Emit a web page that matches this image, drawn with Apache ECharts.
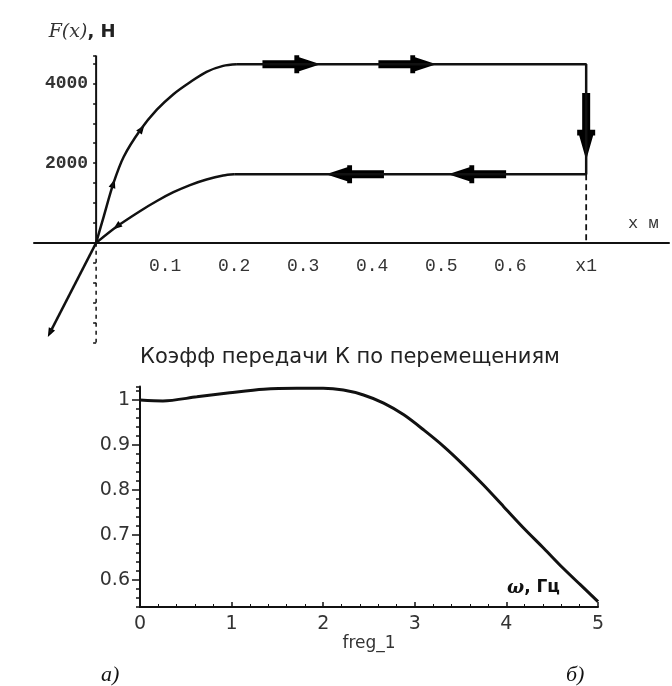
<!DOCTYPE html>
<html>

<head>
  <meta charset="utf-8" />
  <script src="https://cdn.jsdelivr.net/npm/echarts@6/dist/echarts.min.js"></script>
</head>

<body style="margin:0;background:#fff">
  <div id="main" style="width: 672px;height:686px;"></div>
  <script type="text/javascript">
    var myChart = echarts.init(document.getElementById('main'));

    // а) петля F(x), Н
    var negX = [-0.067, 0]
    var negF = [-2260, 0]
    var upX = [0, 0.011, 0.025, 0.040, 0.064, 0.088, 0.112, 0.136, 0.160, 0.184, 0.204]
    var upF = [0, 660, 1490, 2160, 2830, 3340, 3730, 4030, 4290, 4440, 4480]
    var lowX = [0, 0.030, 0.064, 0.088, 0.112, 0.136, 0.160, 0.184, 0.200]
    var lowF = [0, 410, 800, 1050, 1270, 1450, 1590, 1690, 1720]
    var x1 = 0.71
    var fTop = 4480
    var fLow = 1720
    var xTicks = [0.1, 0.2, 0.3, 0.4, 0.5, 0.6, 0.71]
    var xTickText = ['0.1', '0.2', '0.3', '0.4', '0.5', '0.6', 'x1']
    var fLabels = [2000, 4000]
    // большие стрелки на полках (0 - вправо, 180 - влево, -90 - вниз)
    var bigX = [0.283, 0.451, 0.375, 0.552, 0.71]
    var bigF = [4480, 4480, 1720, 1720, 2920]
    var bigDir = [0, 0, 180, 180, -90]
    // маленькие стрелки на кривых
    var smX = [0.025, 0.066, 0.030, -0.067]
    var smF = [1490, 2860, 410, -2260]
    var smRot = [-18, -36, 127, 153]

    // б) коэффициент передачи
    var wX = [0, 0.25, 0.62, 0.98, 1.35, 1.71, 2.0, 2.22, 2.44, 2.66, 2.88, 3.10, 3.32, 3.53, 3.75, 3.97, 4.19, 4.41, 4.62, 4.81, 5.0]
    var kY = [1.000, 0.998, 1.007, 1.016, 1.024, 1.026, 1.026, 1.022, 1.011, 0.993, 0.967, 0.933, 0.896, 0.856, 0.811, 0.763, 0.715, 0.670, 0.626, 0.589, 0.552]
    var kLabels = [0.6, 0.7, 0.8, 0.9, 1]

    var xMin = -0.09, xMax = 0.83
    var fMin = -2500, fMax = 4700

    function pairs(xs, ys) {
      return xs.map(function (x, i) { return [x, ys[i]] })
    }

    // верхняя сетка: оси проходят через ноль, сдвигаем их внутрь
    var g1 = { left: 34, top: 55.5, width: 635, height: 287 }
    var xShift = g1.height * (0 - fMin) / (fMax - fMin)
    var yShift = g1.width * (0 - xMin) / (xMax - xMin)

    var arrowPath = 'path://M0,5 L33,5 L33,0 L38,0 L38,2 L60,9 L38,16 L38,18 L33,18 L33,13 L0,13 Z'
    var ink = '#111'

    var lineBase = {
      type: 'line',
      xAxisIndex: 0,
      yAxisIndex: 0,
      showSymbol: false,
      silent: true,
      lineStyle: { color: ink, width: 2.5 }
    }

    var option = {
      animation: false,
      backgroundColor: '#fff',
      title: {
        text: 'Коэфф передачи К по перемещениям',
        left: 140,
        top: 347,
        padding: 0,
        textStyle: { fontFamily: 'DejaVu Sans', fontSize: 21, fontWeight: 'normal', color: '#222' }
      },
      grid: [
        Object.assign({ outerBoundsMode: 'none' }, g1),
        { left: 140, top: 386.5, width: 458, height: 220.5, outerBoundsMode: 'none' }
      ],
      xAxis: [
        {
          gridIndex: 0, type: 'value', min: xMin, max: xMax,
          offset: -xShift,
          splitLine: { show: false },
          axisLine: { onZero: false, lineStyle: { color: ink, width: 2 } },
          axisTick: { show: false },
          axisLabel: {
            customValues: xTicks,
            margin: 14,
            fontFamily: 'Liberation Mono', fontSize: 18, color: '#333',
            formatter: function (v) {
              var i = xTicks.indexOf(v)
              return i >= 0 ? xTickText[i] : ''
            }
          }
        },
        {
          gridIndex: 1, type: 'value', min: 0, max: 5, interval: 1,
          splitLine: { show: false },
          axisLine: { onZero: false, lineStyle: { color: ink, width: 2 } },
          axisTick: { inside: true, length: 5, lineStyle: { color: ink, width: 1.5 } },
          minorTick: { show: true, splitNumber: 5, length: 3, lineStyle: { color: ink } },
          axisLabel: { margin: 8, fontFamily: 'DejaVu Sans', fontSize: 19, color: '#333' },
          name: 'freg_1',
          nameLocation: 'middle',
          nameGap: 26,
          nameTextStyle: { fontFamily: 'DejaVu Sans', fontSize: 17, color: '#333' }
        }
      ],
      yAxis: [
        {
          gridIndex: 0, type: 'value', min: fMin, max: fMax, interval: 500,
          offset: -yShift,
          splitLine: { show: false },
          axisLine: { show: false, onZero: false },
          axisTick: { length: 3, lineStyle: { color: ink, width: 1.5 } },
          axisLabel: {
            margin: 8,
            fontFamily: 'Liberation Mono', fontSize: 18, fontWeight: 'bold', color: '#333',
            formatter: function (v) { return fLabels.indexOf(v) >= 0 ? String(v) : '' }
          },
          name: '{f|F(x)}{h|, H}',
          nameLocation: 'end',
          nameGap: 14,
          nameTextStyle: {
            padding: [0, 28, 0, 0],
            rich: {
              f: { fontFamily: 'DejaVu Serif', fontStyle: 'italic', fontSize: 19, color: '#333' },
              h: { fontFamily: 'DejaVu Sans', fontWeight: 'bold', fontSize: 18, color: '#222' }
            }
          }
        },
        {
          gridIndex: 1, type: 'value', min: 0.54, max: 1.03, interval: 0.02,
          splitLine: { show: false },
          axisLine: { onZero: false, lineStyle: { color: ink, width: 2 } },
          axisTick: { length: 4, lineStyle: { color: ink, width: 1.5 } },
          axisLabel: {
            customValues: kLabels,
            margin: 10,
            fontFamily: 'DejaVu Sans', fontSize: 19, color: '#333',
            formatter: function (v) { return v === 1 ? '1' : v.toFixed(1) }
          }
        },
        {
          // длинные риски у подписей
          gridIndex: 1, type: 'value', min: 0.54, max: 1.03, position: 'left',
          splitLine: { show: false },
          axisLine: { show: false, onZero: false },
          axisLabel: { show: false },
          axisTick: { customValues: kLabels, length: 8, lineStyle: { color: ink, width: 1.5 } }
        }
      ],
      series: [
        // ось F: сплошная вверх, штриховая вниз
        Object.assign({}, lineBase, {
          data: [[0, 0], [0, fMax]],
          lineStyle: { color: ink, width: 2 }
        }),
        Object.assign({}, lineBase, {
          data: [[0, 0], [0, fMin]],
          lineStyle: { color: ink, width: 1.5, type: [4, 4] }
        }),
        Object.assign({}, lineBase, { data: pairs(negX, negF) }),
        Object.assign({}, lineBase, { data: pairs(upX, upF), smooth: 0.3 }),
        Object.assign({}, lineBase, { data: pairs(lowX, lowF), smooth: 0.3 }),
        Object.assign({}, lineBase, {
          data: [[upX[upX.length - 1], fTop], [x1, fTop], [x1, fLow], [lowX[lowX.length - 1], fLow]]
        }),
        Object.assign({}, lineBase, {
          data: [[x1, fLow], [x1, 0]],
          lineStyle: { color: ink, width: 1.8, type: [6, 4] }
        }),
        {
          type: 'scatter',
          xAxisIndex: 0, yAxisIndex: 0,
          silent: true,
          symbol: arrowPath,
          itemStyle: { color: '#000', opacity: 1 },
          data: bigX.map(function (x, i) {
            return {
              value: [x, bigF[i]],
              symbolRotate: bigDir[i],
              symbolSize: bigDir[i] === -90 ? [67, 18] : [58, 18]
            }
          })
        },
        {
          type: 'scatter',
          xAxisIndex: 0, yAxisIndex: 0,
          silent: true,
          symbol: 'triangle',
          symbolSize: [7, 9],
          itemStyle: { color: '#000', opacity: 1 },
          data: smX.map(function (x, i) {
            return { value: [x, smF[i]], symbolRotate: smRot[i] }
          })
        },
        {
          type: 'line',
          xAxisIndex: 1, yAxisIndex: 1,
          showSymbol: false,
          silent: true,
          smooth: 0.3,
          lineStyle: { color: ink, width: 3 },
          data: pairs(wX, kY)
        }
      ],
      graphic: [
        {
          type: 'text', left: 628, top: 215,
          style: { text: 'x м', font: '17px "Liberation Mono"', fill: '#333' }
        },
        {
          type: 'text', left: 507, top: 579,
          style: {
            text: '{w|ω}{t|, Гц}',
            rich: {
              w: { fontFamily: 'DejaVu Serif', fontStyle: 'italic', fontWeight: 'bold', fontSize: 18, fill: '#111' },
              t: { fontFamily: 'DejaVu Sans', fontWeight: 'bold', fontSize: 17, fill: '#111' }
            }
          }
        },
        {
          type: 'text', left: 101, top: 664,
          style: { text: 'а)', font: 'italic 22px "Liberation Serif"', fill: '#111' }
        },
        {
          type: 'text', left: 566, top: 664,
          style: { text: 'б)', font: 'italic 22px "Liberation Serif"', fill: '#111' }
        }
      ]
    };

    myChart.setOption(option);
  </script>
</body>

</html>
